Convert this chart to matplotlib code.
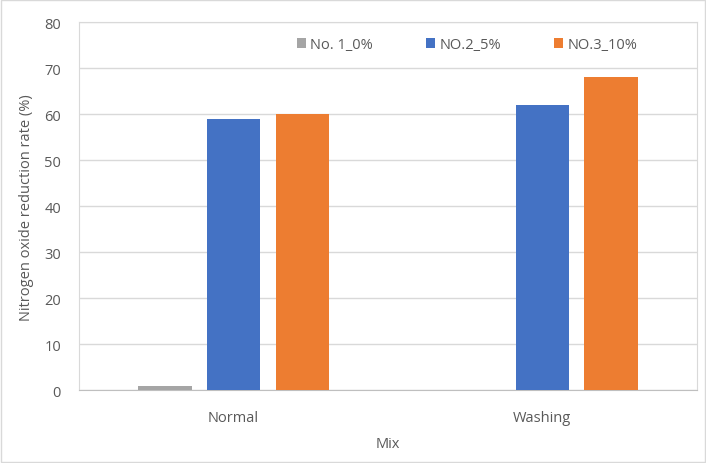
import matplotlib.pyplot as plt
import numpy as np
from matplotlib.patches import Rectangle

categories = ["Normal", "Washing"]
series_names = ["No. 1_0%", "NO.2_5%", "NO.3_10%"]
series_values = [
    [1, 0],
    [59, 62],
    [60, 68],
]
colors = ["#A5A5A5", "#4472C4", "#ED7D31"]

plt.rcParams["font.family"] = ["Open Sans", "DejaVu Sans"]

fig = plt.figure(figsize=(7.06, 4.64), dpi=100)
ax = fig.add_axes([0.112, 0.157, 0.875, 0.793])

x = np.arange(len(categories))
width = 0.172
step = 0.222
for i, (name, vals) in enumerate(zip(series_names, series_values)):
    ax.bar(x + (i - 1) * step, vals, width, color=colors[i], label=name, zorder=3)

ax.set_xlim(-0.5, 1.5)
ax.set_ylim(0, 80)
ax.set_yticks(np.arange(0, 81, 10))
ax.set_xticks(x)
ax.set_xticklabels(categories)
ax.grid(axis="y", color="#D9D9D9", linewidth=1, zorder=0)
for s in ax.spines.values():
    s.set_color("#D9D9D9")
ax.spines["bottom"].set_color("#BFBFBF")
ax.tick_params(axis="both", length=0, colors="#595959", labelsize=10.5)
ax.tick_params(axis="y", pad=13)
ax.tick_params(axis="x", pad=14)

ax.set_ylabel("Nitrogen oxide reduction rate (%)", color="#595959", fontsize=10.5, labelpad=7)
ax.set_xlabel("Mix", color="#595959", fontsize=10.5, labelpad=8)

leg = ax.legend(loc="upper right", bbox_to_anchor=(0.925, 0.995), ncol=3, frameon=False,
                fontsize=10.5, handlelength=0.65, handleheight=0.65, handletextpad=0.3,
                columnspacing=3.6, labelcolor="#595959")

fig.patches.append(Rectangle((0.002, 0.002), 0.996, 0.996, transform=fig.transFigure,
                             fill=False, edgecolor="#D9D9D9", linewidth=1))

fig.savefig("out.png", dpi=100)
